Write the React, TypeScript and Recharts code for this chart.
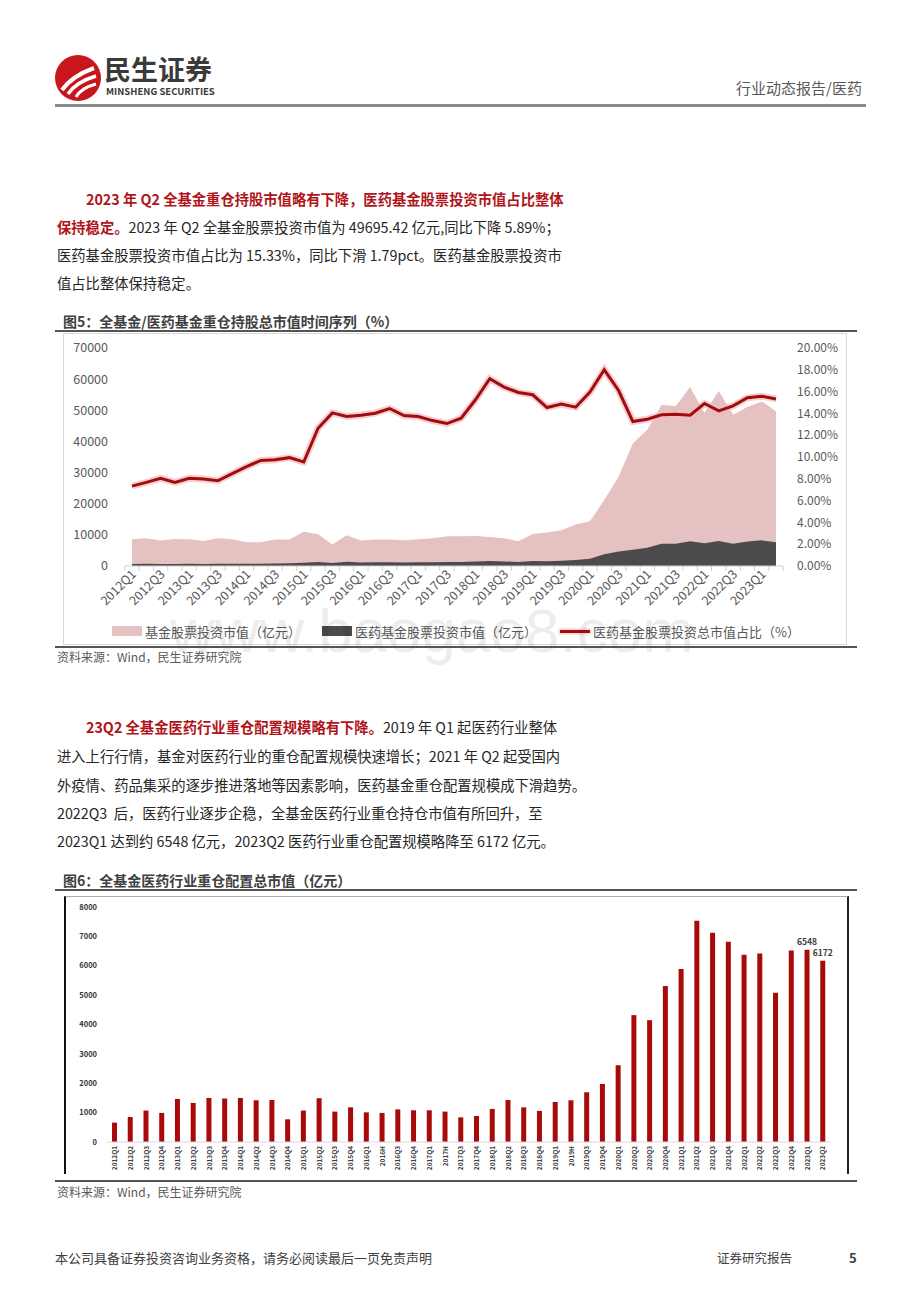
import React from "react";
import { ComposedChart, BarChart, Bar, Area, Line, XAxis, YAxis, LabelList } from "recharts";

// 图5 data: quarters, fund stock value (亿元), pharma fund stock value (亿元), pharma share (%)
const quarters = [
  "2012Q1", "2012Q2", "2012Q3", "2012Q4", "2013Q1", "2013Q2", "2013Q3", "2013Q4",
  "2014Q1", "2014Q2", "2014Q3", "2014Q4", "2015Q1", "2015Q2", "2015Q3", "2015Q4",
  "2016Q1", "2016Q2", "2016Q3", "2016Q4", "2017Q1", "2017Q2", "2017Q3", "2017Q4",
  "2018Q1", "2018Q2", "2018Q3", "2018Q4", "2019Q1", "2019Q2", "2019Q3", "2019Q4",
  "2020Q1", "2020Q2", "2020Q3", "2020Q4", "2021Q1", "2021Q2", "2021Q3", "2021Q4",
  "2022Q1", "2022Q2", "2022Q3", "2022Q4", "2023Q1", "2023Q2",
];
const fundStock = [
  8600, 8900, 8160, 8700, 8600, 8050, 8900, 8600, 7630, 7630, 8490, 8490, 10960, 10200, 6870, 9880,
  8160, 8490, 8490, 8270, 8600, 8900, 9560, 9560, 9670, 9350, 8900, 7950, 10310, 10740, 11490, 13320,
  14390, 21160, 28680, 39420, 43720, 51670, 51340, 57460, 49090, 56180, 48550, 51020, 52850, 49695,
];
const medStock = [
  630, 683, 656, 667, 691, 642, 696, 728, 695, 739, 828, 844, 1046, 1289, 965, 1355,
  1129, 1190, 1227, 1141, 1179, 1187, 1247, 1296, 1475, 1606, 1460, 1266, 1620, 1562, 1706, 1941,
  2295, 3809, 4617, 5223, 5889, 7167, 7152, 7947, 7319, 7994, 7132, 7872, 8234, 7618,
];
const medRatio = [
  7.33, 7.67, 8.04, 7.67, 8.04, 7.98, 7.82, 8.47, 9.11, 9.69, 9.75, 9.94, 9.54, 12.64, 14.05, 13.71,
  13.83, 14.02, 14.45, 13.8, 13.71, 13.34, 13.07, 13.56, 15.25, 17.18, 16.41, 15.92, 15.71, 14.54, 14.85, 14.57,
  15.95, 18.0, 16.1, 13.25, 13.47, 13.87, 13.93, 13.83, 14.91, 14.23, 14.69, 15.43, 15.58, 15.33,
];
const leftTicks = [0, 10000, 20000, 30000, 40000, 50000, 60000, 70000];
const rightTicks = [0, 2, 4, 6, 8, 10, 12, 14, 16, 18, 20];

// 图6 data
const periods = [
  "2012Q1", "2012Q2", "2012Q3", "2012Q4", "2013Q1", "2013Q2", "2013Q3", "2013Q4",
  "2014Q1", "2014Q2", "2014Q3", "2014Q4", "2015Q1", "2015Q2", "2015Q3", "2015Q4",
  "2016Q1", "2016H", "2016Q3", "2016Q4", "2017Q1", "2017H", "2017Q3", "2017Q4",
  "2018Q1", "2018Q2", "2018Q3", "2018Q4", "2019Q1", "2019H", "2019Q3", "2019Q4",
  "2020Q1", "2020Q2", "2020Q3", "2020Q4", "2021Q1", "2021Q2", "2021Q3", "2021Q4",
  "2022Q1", "2022Q2", "2022Q3", "2022Q4", "2023Q1", "2023Q2",
];
const medAlloc = [
  660, 850, 1070, 990, 1465, 1330, 1500, 1480, 1500, 1420, 1430, 773, 1070, 1490, 1035, 1180,
  1010, 990, 1110, 1080, 1080, 1035, 840, 886, 1125, 1430, 1180, 1057, 1364, 1420, 1693, 1977,
  2614, 4318, 4147, 5307, 5886, 7532, 7123, 6816, 6373, 6418, 5078, 6520, 6548, 6172,
];
const labelledPeriods = ["2023Q1", "2023Q2"];
const allocTicks = [0, 1000, 2000, 3000, 4000, 5000, 6000, 7000, 8000];

const chart1Data = quarters.map((q, i) => ({ q, fund: fundStock[i], med: medStock[i], ratio: medRatio[i] }));
const chart2Data = periods.map((p, i) => ({ p, v: medAlloc[i] }));

const CJK = "'Noto Sans CJK SC', 'Noto Sans', sans-serif";
const STEP1 = 644 / 45;

function QuarterTick(props: any) {
  const { x, y, payload } = props;
  const i = props.index ?? payload.index;
  const lx = x + 5;
  const ly = y + 9;
  return (
    <g>
      <line x1={x - STEP1 / 2} x2={x - STEP1 / 2} y1={y} y2={y + 5} stroke="#d0d0d0" />
      {i === quarters.length - 1 && <line x1={x + STEP1 / 2} x2={x + STEP1 / 2} y1={y} y2={y + 5} stroke="#d0d0d0" />}
      {i % 2 === 0 && (
        <text x={lx} y={ly} transform={`rotate(-45 ${lx} ${ly})`} textAnchor="end" fontSize={12.5} fill="#595959" fontFamily={CJK}>
          {payload.value}
        </text>
      )}
    </g>
  );
}

function PeriodTick(props: any) {
  const { x, y, payload } = props;
  const ty = y + 4;
  return (
    <text x={x} y={ty} dy="0.35em" transform={`rotate(-90 ${x} ${ty})`} textAnchor="end" fontSize={6.5} fontWeight={700} fill="#404040" fontFamily={CJK}>
      {payload.value}
    </text>
  );
}

function ValueLabel(props: any) {
  const { x, y, width, value, index } = props;
  if (!labelledPeriods.includes(periods[index])) return null;
  return (
    <text x={x + width / 2} y={y - 5} textAnchor="middle" fontSize={8.5} fontWeight={700} fill="#404040" fontFamily={CJK}>
      {value}
    </text>
  );
}

function Logo() {
  return (
    <svg width={48} height={48} style={{ position: "absolute", left: 54, top: 54 }}>
      <circle cx={24} cy={24} r={23} fill="#c8161d" />
      <path d="M8 36 Q18 22 40 14" stroke="#fff" strokeWidth={4} fill="none" />
      <path d="M14 40 Q22 28 42 22" stroke="#fff" strokeWidth={3.5} fill="none" />
      <path d="M22 43 Q27 34 42 30" stroke="#fff" strokeWidth={3} fill="none" />
    </svg>
  );
}

const Line_ = ({ top, left, children }: { top: number; left: number; children: React.ReactNode }) => (
  <div style={{ position: "absolute", left, top: top - 11, height: 22, lineHeight: "22px", fontSize: 14.3, whiteSpace: "nowrap", color: "#262626" }}>
    {children}
  </div>
);
const Red = ({ children }: { children: React.ReactNode }) => (
  <span style={{ color: "#b0141a", fontWeight: 700 }}>{children}</span>
);

export default function App() {
  return (
    <div style={{ position: "absolute", left: 0, top: 0, width: 920, height: 1302, background: "#fff", fontFamily: CJK, overflow: "hidden" }}>
      {/* header */}
      <Logo />
      <svg width={140} height={60} style={{ position: "absolute", left: 103, top: 44 }}>
        <text x={1} y={36} fontSize={27} fontWeight={700} fill="#3a3a3a" fontFamily={CJK}>民生证券</text>
        <text x={3} y={51} fontSize={9.5} fontWeight={700} fill="#3a3a3a" fontFamily={CJK}>MINSHENG SECURITIES</text>
      </svg>
      <div style={{ position: "absolute", right: 58, top: 78, fontSize: 15, color: "#595959", lineHeight: "20px" }}>行业动态报告/医药</div>
      <div style={{ position: "absolute", left: 55, top: 104, width: 811, height: 2.5, background: "#8a8a8a" }} />

      {/* paragraph 1 */}
      <Line_ top={199} left={86}>
        <Red>2023 年 Q2 全基金重仓持股市值略有下降，医药基金股票投资市值占比整体</Red>
      </Line_>
      <Line_ top={227} left={57}>
        <Red>保持稳定。</Red>2023 年 Q2 全基金股票投资市值为 49695.42 亿元,同比下降 5.89%；
      </Line_>
      <Line_ top={255} left={57}>医药基金股票投资市值占比为 15.33%，同比下滑 1.79pct。医药基金股票投资市</Line_>
      <Line_ top={283} left={57}>值占比整体保持稳定。</Line_>

      {/* figure 5 */}
      <div style={{ position: "absolute", left: 63, top: 311, fontSize: 14, fontWeight: 700, color: "#404040", lineHeight: "20px", whiteSpace: "nowrap" }}>
        图5：全基金/医药基金重仓持股总市值时间序列（%）
      </div>
      <div style={{ position: "absolute", left: 55, top: 330, width: 802, height: 1.5, background: "#555" }} />
      <div style={{ position: "absolute", left: 63, top: 333, width: 784, height: 312, border: "1px solid #d9d9d9", boxSizing: "border-box" }} />
      <div style={{ position: "absolute", left: 63, top: 333 }}>
        <ComposedChart width={784} height={312} data={chart1Data} margin={{ top: 15, right: 0, bottom: 0, left: 0 }}>
          <XAxis
            dataKey="q"
            scale="point"
            interval={0}
            height={79}
            padding={{ left: 7, right: 7 }}
            axisLine={{ stroke: "#d0d0d0" }}
            tickLine={false}
            tickSize={0}
            tickMargin={0}
            tick={<QuarterTick />}
          />
          <YAxis
            yAxisId="l"
            width={62}
            domain={[0, 70000]}
            ticks={leftTicks}
            axisLine={false}
            tickLine={false}
            tickSize={0}
            tickMargin={17}
            tick={{ fontSize: 12.5, fill: "#595959", fontFamily: CJK }}
          />
          <YAxis
            yAxisId="r"
            orientation="right"
            width={64}
            domain={[0, 20]}
            ticks={rightTicks}
            tickFormatter={(v: number) => `${v.toFixed(2)}%`}
            axisLine={false}
            tickLine={false}
            tickSize={0}
            tickMargin={14}
            tick={{ fontSize: 12, fill: "#595959", fontFamily: CJK, textAnchor: "start" }}
          />
          <Area yAxisId="l" type="linear" dataKey="fund" stroke="none" fill="#e6c1c1" fillOpacity={1} isAnimationActive={false} />
          <Area yAxisId="l" type="linear" dataKey="med" stroke="none" fill="#4b4a4d" fillOpacity={1} isAnimationActive={false} />
          <Line yAxisId="r" type="linear" dataKey="ratio" stroke="#f7b8bd" strokeOpacity={0.7} strokeWidth={7} dot={false} isAnimationActive={false} />
          <Line yAxisId="r" type="linear" dataKey="ratio" stroke="#a00d0d" strokeWidth={3} dot={false} isAnimationActive={false} />
        </ComposedChart>
      </div>
      {/* legend 5 */}
      <div style={{ position: "absolute", left: 112, top: 621, height: 20, display: "flex", alignItems: "center", fontSize: 13, color: "#595959", whiteSpace: "nowrap" }}>
        <span style={{ width: 30, height: 10, background: "#e6c1c1", marginRight: 3 }} />
        <span style={{ width: 177 }}>基金股票投资市值（亿元）</span>
        <span style={{ width: 30, height: 10, background: "#4b4a4d", marginRight: 3 }} />
        <span style={{ width: 205 }}>医药基金股票投资市值（亿元）</span>
        <span style={{ width: 30, height: 3, background: "#a00d0d", boxShadow: "0 0 3px 1px #f7b8bd", marginRight: 3 }} />
        <span>医药基金股票投资总市值占比（%）</span>
      </div>
      <div style={{ position: "absolute", left: 170, top: 596, fontSize: 62, fontFamily: "'Liberation Sans', sans-serif", color: "rgba(0,0,0,0.07)", lineHeight: "70px", whiteSpace: "nowrap", pointerEvents: "none" }}>
        www.baogao8.com
      </div>
      <div style={{ position: "absolute", left: 55, top: 646, width: 802, height: 1.5, background: "#555" }} />
      <div style={{ position: "absolute", left: 57, top: 648, fontSize: 12, color: "#595959", lineHeight: "18px", whiteSpace: "nowrap" }}>资料来源：Wind，民生证券研究院</div>

      {/* paragraph 2 */}
      <Line_ top={727} left={86}>
        <Red>23Q2 全基金医药行业重仓配置规模略有下降。</Red>2019 年 Q1 起医药行业整体
      </Line_>
      <Line_ top={756} left={57}>进入上行行情，基金对医药行业的重仓配置规模快速增长；2021 年 Q2 起受国内</Line_>
      <Line_ top={785} left={57}>外疫情、药品集采的逐步推进落地等因素影响，医药基金重仓配置规模成下滑趋势。</Line_>
      <Line_ top={813} left={57}>2022Q3&nbsp;&nbsp;后，医药行业逐步企稳，全基金医药行业重仓持仓市值有所回升，至</Line_>
      <Line_ top={841} left={57}>2023Q1 达到约 6548 亿元，2023Q2 医药行业重仓配置规模略降至 6172 亿元。</Line_>

      {/* figure 6 */}
      <div style={{ position: "absolute", left: 63, top: 870, fontSize: 14, fontWeight: 700, color: "#404040", lineHeight: "20px", whiteSpace: "nowrap" }}>
        图6：全基金医药行业重仓配置总市值（亿元）
      </div>
      <div style={{ position: "absolute", left: 55, top: 889, width: 802, height: 1.5, background: "#555" }} />
      <div style={{ position: "absolute", left: 64, top: 896, width: 785, height: 278, borderLeft: "2px solid #111", borderRight: "2px solid #222", borderTop: "1px solid #aaa", boxSizing: "border-box" }} />
      <div style={{ position: "absolute", left: 64, top: 896 }}>
        <BarChart width={785} height={278} data={chart2Data} margin={{ top: 11, right: 18, bottom: 0, left: 0 }}>
          <XAxis
            dataKey="p"
            interval={0}
            height={32}
            axisLine={{ stroke: "#d9d9d9" }}
            tickLine={false}
            tickSize={0}
            tickMargin={0}
            tick={<PeriodTick />}
          />
          <YAxis
            width={43}
            domain={[0, 8000]}
            ticks={allocTicks}
            axisLine={false}
            tickLine={false}
            tickSize={0}
            tickMargin={10}
            tick={{ fontSize: 7.5, fontWeight: 700, fill: "#333", fontFamily: CJK }}
          />
          <Bar dataKey="v" fill="#a80a0a" barSize={5} isAnimationActive={false}>
            <LabelList dataKey="v" content={<ValueLabel />} />
          </Bar>
        </BarChart>
      </div>
      <div style={{ position: "absolute", left: 55, top: 1180, width: 802, height: 1.5, background: "#555" }} />
      <div style={{ position: "absolute", left: 57, top: 1183, fontSize: 12, color: "#595959", lineHeight: "18px", whiteSpace: "nowrap" }}>资料来源：Wind，民生证券研究院</div>

      {/* footer */}
      <div style={{ position: "absolute", left: 55, top: 1249, fontSize: 13, color: "#404040", lineHeight: "18px", whiteSpace: "nowrap" }}>
        本公司具备证券投资咨询业务资格，请务必阅读最后一页免责声明
      </div>
      <div style={{ position: "absolute", left: 717, top: 1249, fontSize: 12.5, color: "#404040", lineHeight: "18px", whiteSpace: "nowrap" }}>证券研究报告</div>
      <div style={{ position: "absolute", left: 849, top: 1249, fontSize: 13, fontWeight: 700, color: "#404040", lineHeight: "18px" }}>5</div>
    </div>
  );
}
